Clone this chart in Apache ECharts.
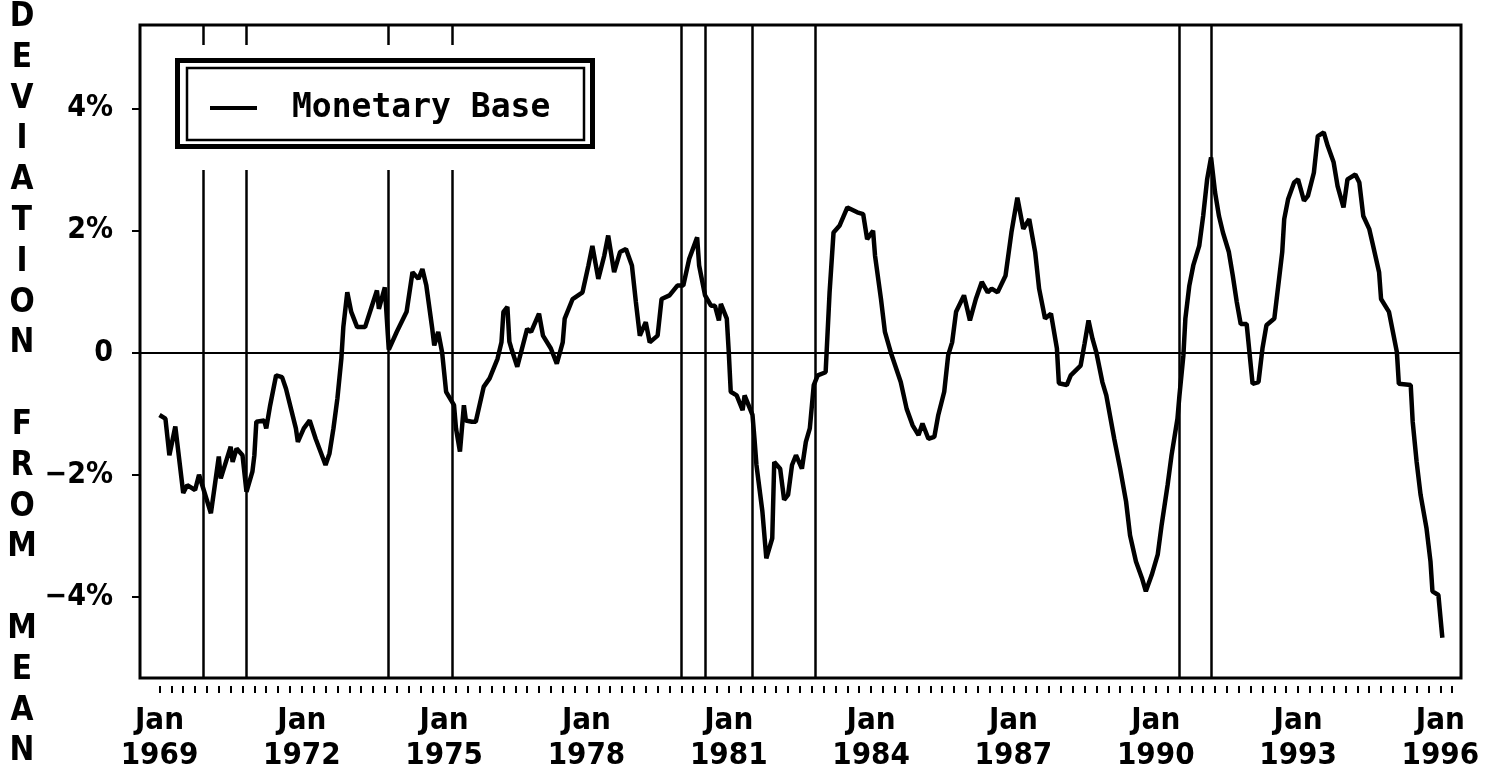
<!DOCTYPE html>
<html>
<head>
<meta charset="utf-8">
<script src="https://cdn.jsdelivr.net/npm/echarts@6/dist/echarts.min.js"></script>
<style>
html,body{margin:0;padding:0;background:#fff;}
#chart{width:1493px;height:773px;}
</style>
</head>
<body>
<div id="chart"></div>
<script>
// months since Jan 1969 (vertices)
const monthOffset = [0,1.5,2.5,4,6,7,9,10,13,14,15,15.5,18,18.5,19.5,21,22,23.5,24,24.5,26.5,27,28,29.5,31,32,34.5,35,36.5,38,39.5,42,43,44,45,46,46.5,47.5,48.5,50,52,53.5,55,55.5,57,58,60,62.5,64,65.5,66.5,67.5,69,69.5,70.5,71.5,72,72.5,74.5,75,76,77,77.5,79,80,82,83.5,85.5,86.5,87,88,88.5,89,90.5,93,94,96,97,99,100.5,102,102.5,104.5,107,108.5,109.5,111,112.5,113.5,115,116.5,118,119.5,120.5,121.5,123,124,126,127,129,131,132.5,134,136,136.5,138,139.5,140.5,141.5,142,143.5,144,144.5,146,147.5,148,150,150.5,151,152.5,153.5,155,155.5,157,158,159,160,161,162.5,163.5,164.5,165.5,166.5,168.5,169.5,170.5,172,174,176.5,178,179,180.5,181,182.5,183.5,185,187.5,189,190.5,192,193,194.5,196,197,198.5,199.5,200.5,201.5,203.5,205,206.5,208,209.5,210.5,212,214,215.5,217,218.5,220,221.5,222.5,224,225.5,227,227.5,229.5,230.5,233,234,235,236,237,238.5,239.5,241.5,243,244.5,245.5,247,248.5,249.5,251,252.5,253.5,255,256,257.5,258,259,259.5,260.5,261.5,263,264,265,266,267,268,269,270.5,271.5,272.5,273.5,275,276.5,278,279,280,282,283,284,284.5,285.5,287,288,289.5,290.5,292,293,294.5,295.5,297,298,299.5,300.5,302.5,303.5,304.5,306,307,308.5,309,311,312,313,313.5,316.5,317,318,319,320.5,321.5,322,323.5,324.5];
// deviation from mean, percent
const deviation = [-1.02,-1.08,-1.68,-1.21,-2.30,-2.17,-2.25,-2.00,-2.63,-2.17,-1.70,-2.06,-1.54,-1.79,-1.57,-1.68,-2.28,-1.95,-1.68,-1.13,-1.11,-1.24,-0.86,-0.37,-0.40,-0.59,-1.24,-1.46,-1.24,-1.11,-1.41,-1.84,-1.65,-1.24,-0.75,-0.10,0.42,0.99,0.67,0.42,0.42,0.72,1.02,0.72,1.07,0.05,0.34,0.67,1.32,1.21,1.37,1.10,0.39,0.12,0.34,0.00,-0.32,-0.64,-0.86,-1.24,-1.62,-0.86,-1.11,-1.13,-1.13,-0.56,-0.42,-0.10,0.17,0.67,0.75,0.18,0.07,-0.23,0.39,0.34,0.64,0.28,0.07,-0.18,0.17,0.56,0.88,0.99,1.43,1.75,1.21,1.59,1.92,1.32,1.65,1.70,1.43,0.83,0.28,0.50,0.17,0.28,0.88,0.94,1.10,1.10,1.54,1.89,1.43,0.94,0.77,0.77,0.53,0.80,0.56,0.01,-0.64,-0.70,-0.94,-0.70,-1.02,-1.41,-1.84,-2.60,-3.37,-3.04,-1.79,-1.90,-2.41,-2.33,-1.84,-1.68,-1.90,-1.46,-1.24,-0.53,-0.37,-0.32,0.99,1.97,2.08,2.38,2.30,2.27,1.86,2.00,1.59,0.88,0.34,0.00,-0.48,-0.92,-1.19,-1.35,-1.16,-1.41,-1.38,-1.02,-0.64,-0.04,0.17,0.67,0.94,0.53,0.88,1.16,0.99,1.05,0.99,1.26,1.97,2.54,2.03,2.19,1.65,1.05,0.56,0.64,0.07,-0.50,-0.53,-0.37,-0.21,0.15,0.53,0.23,0.00,-0.48,-0.70,-1.41,-1.90,-2.44,-2.99,-3.42,-3.69,-3.91,-3.64,-3.31,-2.82,-2.17,-1.68,-1.08,-0.70,-0.04,0.56,1.10,1.43,1.75,2.24,2.84,3.20,2.63,2.24,1.97,1.65,1.26,0.83,0.47,0.47,-0.51,-0.48,0.07,0.45,0.56,1.10,1.65,2.19,2.52,2.79,2.84,2.49,2.57,2.95,3.55,3.61,3.39,3.12,2.73,2.38,2.84,2.92,2.79,2.24,2.03,1.75,1.32,0.88,0.67,0.34,0.01,-0.51,-0.53,-1.13,-1.79,-2.33,-2.88,-3.42,-3.91,-3.97,-4.67];
// recession peak / trough dates (months since Jan 1969)
const recessionMonths = [11,22,58,74,132,138,150,166,258,266];
// axis labels
const labelYears = [1969,1972,1975,1978,1981,1984,1987,1990,1993,1996];
const yTickValues = [-4,-2,0,2,4];
const seriesName = 'Monetary Base';
const yTitle = ['D','E','V','I','A','T','I','O','N','','F','R','O','M','','M','E','A','N'];

const START_YEAR = 1969;
const toYear = m => START_YEAR + m / 12;
const quarterTicks = [];
for (let q = 0; q <= 109; q++) quarterTicks.push(START_YEAR + q * 0.25);

const labelFont = "'DejaVu Sans Condensed','DejaVu Sans',sans-serif";
const monoFont = "'DejaVu Sans Mono','Liberation Mono',monospace";

const chart = echarts.init(document.getElementById('chart'), null, {renderer:'canvas'});
const option = {
  animation: false,
  backgroundColor: '#fff',
  grid: {left:140, right:32, top:25, bottom:95, show:true, borderColor:'#000', borderWidth:3, backgroundColor:'transparent'},
  xAxis: {
    type:'value', min:1968.589, max:1996.435, position:'bottom', offset:8,
    axisLine:{show:false, onZero:false},
    splitLine:{show:false},
    axisTick:{show:true, length:7, customValues:quarterTicks, lineStyle:{color:'#000', width:2}},
    axisLabel:{customValues:labelYears, margin:17, color:'#000', fontFamily:labelFont, fontWeight:'bold', fontSize:31, lineHeight:35,
      formatter: v => 'Jan\n' + Math.round(v)}
  },
  yAxis: {
    type:'value', min:-5.33, max:5.37,
    axisLine:{show:false, onZero:false},
    splitLine:{show:false},
    axisTick:{show:true, length:8, customValues:yTickValues, lineStyle:{color:'#000', width:2}},
    axisLabel:{customValues:yTickValues, margin:27, color:'#000', fontFamily:labelFont, fontWeight:'bold', fontSize:30,
      formatter: v => v === 0 ? '0' : (v < 0 ? '\u2212' + Math.abs(v) + '%' : v + '%')}
  },
  legend: {
    data:[seriesName], left:210, top:91, padding:0, z:120,
    icon:'rect', itemWidth:47, itemHeight:4,
    itemStyle:{color:'#000'},
    textStyle:{color:'#000', fontFamily:monoFont, fontWeight:'bold', fontSize:33, lineHeight:34, padding:[0,0,0,30]}
  },
  graphic: [
    {type:'rect', z:100, shape:{x:165, y:45, width:440, height:125}, style:{fill:'#fff'}},
    {type:'rect', z:101, shape:{x:177.5, y:60.5, width:415, height:86}, style:{fill:null, stroke:'#000', lineWidth:5}},
    {type:'rect', z:101, shape:{x:187, y:68, width:397, height:72}, style:{fill:null, stroke:'#000', lineWidth:2.5}},
    {type:'text', z:101, x:22, y:-3, style:{text:yTitle.join('\n'), textAlign:'center', textVerticalAlign:'top', fill:'#000',
      font:"bold 33px " + labelFont, lineHeight:40.8}}
  ],
  series: [{
    name: seriesName,
    type:'line',
    showSymbol:false,
    symbol:'none',
    data: monthOffset.map((m,i) => [toYear(m), deviation[i]]),
    lineStyle:{color:'#000', width:4.5},
    itemStyle:{color:'#000'},
    markLine:{
      silent:true, symbol:['none','none'], label:{show:false},
      data:[
        {yAxis:0, lineStyle:{color:'#000', width:2, type:'solid'}},
        ...recessionMonths.map(m => ({xAxis:toYear(m), lineStyle:{color:'#000', width:2.5, type:'solid'}}))
      ]
    }
  }]
};
chart.setOption(option);
</script>
</body>
</html>
